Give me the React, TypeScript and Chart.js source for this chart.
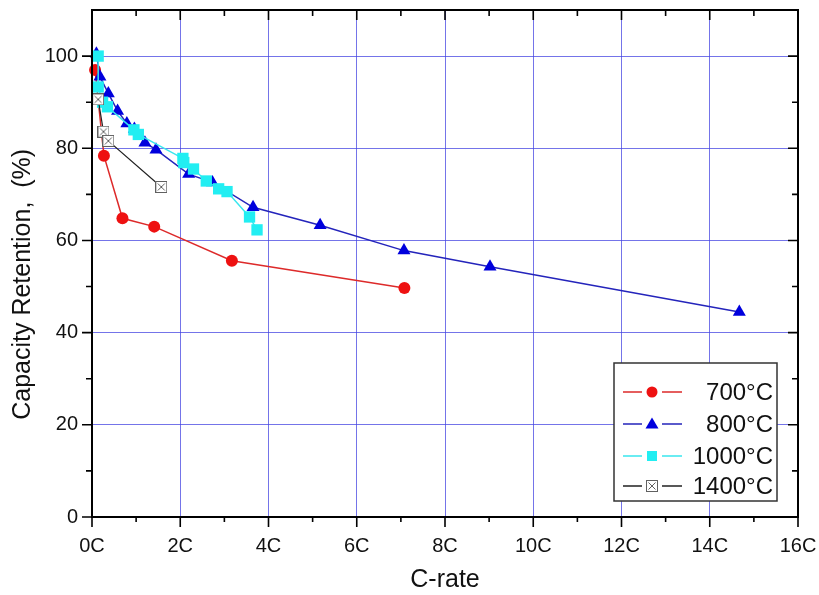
import React, { useEffect, useRef } from 'react';
import { Chart, registerables } from 'chart.js';

Chart.register(...registerables);

const seriesLabels = ['700°C', '800°C', '1000°C', '1400°C'];

const x700 = [0.07, 0.27, 0.69, 1.41, 3.17, 7.08];
const y700 = [97.0, 78.4, 64.8, 63.0, 55.6, 49.7];

const x800 = [0.1, 0.18, 0.37, 0.58, 0.79, 0.96, 1.2, 1.45, 2.19, 2.73, 3.65, 5.17, 7.07, 9.02, 14.67];
const y800 = [100.5, 95.5, 91.9, 88.1, 85.4, 84.2, 81.2, 79.7, 74.4, 72.6, 67.2, 63.3, 57.8, 54.3, 44.5];

const x1000 = [0.14, 0.14, 0.24, 0.35, 0.95, 1.05, 2.06, 2.08, 2.3, 2.59, 2.87, 3.06, 3.57, 3.74];
const y1000 = [100.0, 93.3, 90.0, 89.0, 84.0, 83.0, 77.8, 76.9, 75.5, 72.9, 71.2, 70.6, 65.1, 62.3];

const x1400 = [0.14, 0.26, 0.37, 1.57];
const y1400 = [90.6, 83.6, 81.6, 71.6];

const xTicks = [0, 2, 4, 6, 8, 10, 12, 14, 16];
const yTicks = [0, 20, 40, 60, 80, 100];

const FONT = '"Liberation Sans", Arial, sans-serif';

function makeBoxMarker(): HTMLCanvasElement {
  const c = document.createElement('canvas');
  c.width = 12;
  c.height = 12;
  const g = c.getContext('2d')!;
  g.fillStyle = '#ffffff';
  g.fillRect(0.5, 0.5, 11, 11);
  g.strokeStyle = '#606060';
  g.lineWidth = 1;
  g.strokeRect(0.5, 0.5, 11, 11);
  g.beginPath();
  g.moveTo(2.5, 2.5);
  g.lineTo(9.5, 9.5);
  g.moveTo(9.5, 2.5);
  g.lineTo(2.5, 9.5);
  g.stroke();
  return c;
}

function pts(xs: number[], ys: number[]) {
  return xs.map((x, i) => ({ x, y: ys[i] }));
}

export default function App() {
  const ref = useRef<HTMLCanvasElement | null>(null);

  useEffect(() => {
    document.body.style.margin = '0';
    const canvas = ref.current;
    if (!canvas) return;
    const boxMarker = makeBoxMarker();

    const styles = [
      { line: '#dd2a2a', fill: '#ee1111', shape: 'circle', r: 6 },
      { line: '#2424bb', fill: '#0000dd', shape: 'triangle', r: 7.5 },
      { line: '#3ae6ee', fill: '#22eef2', shape: 'rect', r: 8 },
      { line: '#222222', fill: '#ffffff', shape: 'box', r: 6 },
    ];

    const frameTicks = {
      id: 'frameTicks',
      afterDraw(chart: any) {
        const { ctx, chartArea: a } = chart;
        const xs = chart.scales.x;
        const ys = chart.scales.y;
        ctx.save();
        ctx.strokeStyle = '#000';
        ctx.lineWidth = 2;
        ctx.strokeRect(a.left, a.top, a.right - a.left, a.bottom - a.top);
        ctx.lineWidth = 1.6;
        ctx.beginPath();
        for (let v = 0; v <= 16; v++) {
          const px = xs.getPixelForValue(v);
          const len = v % 2 === 0 ? 10 : 5;
          ctx.moveTo(px, a.bottom);
          ctx.lineTo(px, a.bottom + len);
          ctx.moveTo(px, a.top);
          ctx.lineTo(px, a.top + (v % 2 === 0 ? 10 : 6));
        }
        for (let v = 0; v <= 100; v += 10) {
          const py = ys.getPixelForValue(v);
          const len = v % 20 === 0 ? 10 : 6;
          ctx.moveTo(a.left, py);
          ctx.lineTo(a.left - len, py);
          ctx.moveTo(a.right, py);
          ctx.lineTo(a.right - len, py);
        }
        ctx.stroke();
        ctx.restore();
      },
    };

    const drawMarker = (ctx: CanvasRenderingContext2D, i: number, x: number, y: number) => {
      const s = styles[i];
      ctx.fillStyle = s.fill;
      ctx.beginPath();
      if (s.shape === 'circle') {
        ctx.arc(x, y, 5.5, 0, Math.PI * 2);
        ctx.fill();
      } else if (s.shape === 'triangle') {
        ctx.moveTo(x, y - 6.5);
        ctx.lineTo(x + 6.5, y + 4.5);
        ctx.lineTo(x - 6.5, y + 4.5);
        ctx.closePath();
        ctx.fill();
      } else if (s.shape === 'rect') {
        ctx.fillRect(x - 5, y - 5, 10, 10);
      } else {
        ctx.drawImage(boxMarker, x - 6, y - 6);
      }
    };

    const boxLegend = {
      id: 'boxLegend',
      afterDraw(chart: any) {
        const { ctx, chartArea: a } = chart;
        const bx = a.right - 184;
        const by = a.bottom - 154;
        const bw = 163;
        const bh = 138;
        ctx.save();
        ctx.fillStyle = '#ffffff';
        ctx.fillRect(bx, by, bw, bh);
        ctx.strokeStyle = '#333';
        ctx.lineWidth = 1.5;
        ctx.strokeRect(bx, by, bw, bh);
        const rows = [29, 61, 93, 123];
        seriesLabels.forEach((label, i) => {
          const y = by + rows[i];
          ctx.strokeStyle = styles[i].line;
          ctx.lineWidth = 1.3;
          ctx.beginPath();
          ctx.moveTo(bx + 9, y);
          ctx.lineTo(bx + 28, y);
          ctx.moveTo(bx + 48, y);
          ctx.lineTo(bx + 68, y);
          ctx.stroke();
          drawMarker(ctx, i, bx + 38, y);
          ctx.fillStyle = '#111';
          ctx.font = `24px ${FONT}`;
          ctx.textAlign = 'right';
          ctx.textBaseline = 'middle';
          ctx.fillText(label, bx + 159, y + 1);
        });
        ctx.restore();
      },
    };

    const all = [
      pts(x700, y700),
      pts(x800, y800),
      pts(x1000, y1000),
      pts(x1400, y1400),
    ];

    const datasets = all.map((data, i) => {
      const s = styles[i];
      return {
        label: seriesLabels[i],
        data,
        showLine: true,
        borderColor: s.line,
        borderWidth: i === 3 ? 1.2 : 1.5,
        backgroundColor: s.fill,
        pointBackgroundColor: s.fill,
        pointBorderColor: i === 3 ? '#606060' : s.fill,
        pointBorderWidth: 0,
        pointStyle: s.shape === 'box' ? boxMarker : s.shape,
        pointRadius: s.r,
        pointHoverRadius: s.r,
        order: 4 - i,
        clip: 8,
      };
    });

    const gridBlue = 'rgba(70,70,225,0.75)';
    const zeroPad = (s: any) => {
      s.paddingLeft = 0;
      s.paddingRight = 0;
      s.paddingTop = 0;
      s.paddingBottom = 0;
    };

    const chart = new Chart(canvas, {
      type: 'scatter',
      data: { datasets: datasets as any },
      options: {
        animation: false,
        responsive: false,
        devicePixelRatio: 1,
        layout: { padding: { top: 10, right: 21, left: 0, bottom: 0 } },
        plugins: {
          legend: { display: false },
          tooltip: { enabled: false },
        },
        scales: {
          x: {
            type: 'linear',
            min: 0,
            max: 16,
            afterBuildTicks: (s: any) => {
              s.ticks = xTicks.map((v) => ({ value: v }));
            },
            afterFit: (s: any) => {
              s.height = 78;
              zeroPad(s);
            },
            grid: {
              drawTicks: false,
              lineWidth: 1,
              color: (c: any) =>
                c.tick && (c.tick.value === 0 || c.tick.value === 16) ? 'rgba(0,0,0,0)' : gridBlue,
            },
            border: { display: false },
            ticks: {
              padding: 17,
              color: '#111',
              font: { family: FONT, size: 20 },
              callback: (v: any) => `${v}C`,
              maxRotation: 0,
            },
            title: {
              display: true,
              text: 'C-rate',
              color: '#111',
              font: { family: FONT, size: 25 },
              padding: { top: 0, bottom: 0 },
            },
          },
          y: {
            type: 'linear',
            min: 0,
            max: 110,
            afterBuildTicks: (s: any) => {
              s.ticks = yTicks.map((v) => ({ value: v }));
            },
            afterFit: (s: any) => {
              s.width = 92;
              zeroPad(s);
            },
            grid: {
              drawTicks: false,
              lineWidth: 1,
              color: (c: any) => (c.tick && c.tick.value === 0 ? 'rgba(0,0,0,0)' : gridBlue),
            },
            border: { display: false },
            ticks: {
              padding: 14,
              color: '#111',
              font: { family: FONT, size: 20 },
            },
            title: {
              display: true,
              text: 'Capacity Retention,  (%)      ',
              color: '#111',
              font: { family: FONT, size: 25 },
              padding: { top: 8, bottom: 0 },
            },
          },
        },
      },
      plugins: [frameTicks, boxLegend],
    });

    return () => {
      chart.destroy();
    };
  }, []);

  return (
    <div style={{ position: 'absolute', left: 0, top: 0, width: 819, height: 595, background: '#fff' }}>
      <canvas ref={ref} width={819} height={595} style={{ display: 'block' }} />
    </div>
  );
}
